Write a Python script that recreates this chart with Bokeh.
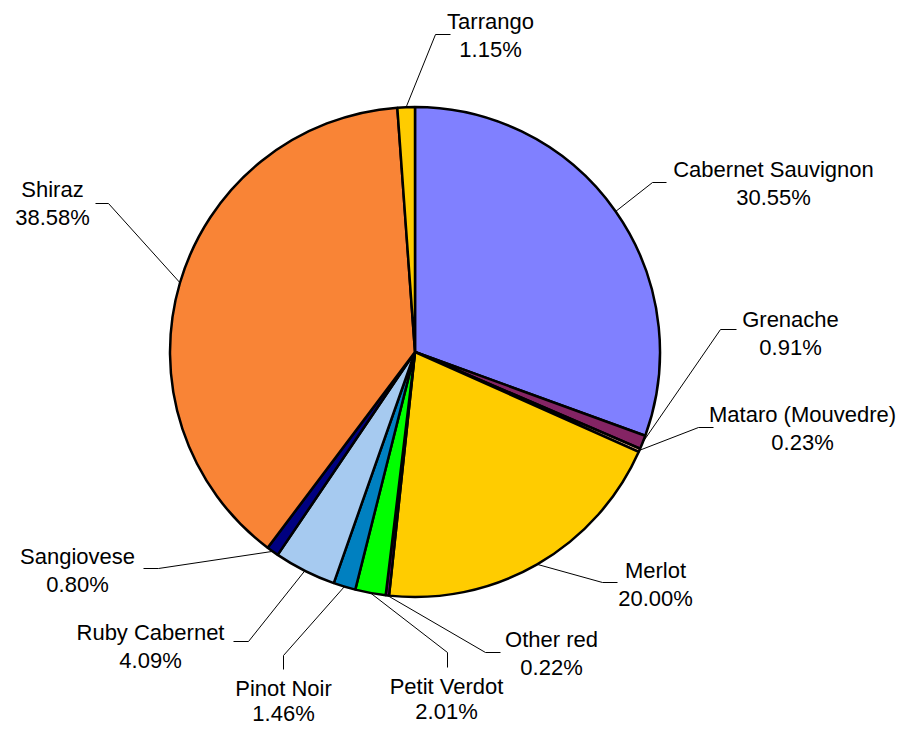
import numpy as np
from bokeh.plotting import figure
from bokeh.models import Range1d, ColumnDataSource
from bokeh.core.properties import value
from bokeh.embed import file_html
from bokeh.resources import INLINE

# ---- data ----
varieties = ["Cabernet Sauvignon", "Grenache", "Mataro (Mouvedre)", "Merlot", "Other red",
             "Petit Verdot", "Pinot Noir", "Ruby Cabernet", "Sangiovese", "Shiraz", "Tarrango"]
shares = [30.55, 0.91, 0.23, 20.00, 0.22, 2.01, 1.46, 4.09, 0.80, 38.58, 1.15]
pct_labels = ["30.55%", "0.91%", "0.23%", "20.00%", "0.22%", "2.01%", "1.46%", "4.09%",
              "0.80%", "38.58%", "1.15%"]

# ---- style ----
colors = ["#8080FF", "#842464", "#FFCC99", "#FFCC00", "#800080", "#00FF00", "#0080C0",
          "#A6CAF0", "#000080", "#F98436", "#FFCC00"]

W, H = 896, 727
CX, CY_PX, R = 414.5, 351.5, 245.0


def Y(py):
    return H - py


# label layout: (center x, first line y, line gap, elbow x, elbow y, end x, end y) in picture pixels
label_layout = [
    (773, 169, 28, 652, 182, 666, 182),
    (790, 319, 28, 720, 329, 736, 329),
    (802, 414, 28, 698, 427, 713, 427),
    (655, 570, 28, 602, 582, 617, 582),
    (551, 639, 28, 485, 652, 500, 652),
    (446, 686, 25, 447, 652, 447, 667),
    (283, 688, 25, 283, 655, 283, 669),
    (150, 632, 28, 248, 641, 233, 641),
    (77, 556, 28, 158, 568, 143, 568),
    (52, 189, 28, 108, 203, 95, 203),
    (490, 21, 28, 435, 34, 450, 34),
]

frac = np.array(shares) / np.sum(shares)
cum = np.concatenate([[0], np.cumsum(frac)])
start = np.pi / 2 - 2 * np.pi * cum[:-1]
end = np.pi / 2 - 2 * np.pi * cum[1:]
mid = (start + end) / 2

p = figure(width=W, height=H, x_range=Range1d(0, W), y_range=Range1d(0, H),
           output_backend="svg", toolbar_location=None, min_border=0)
p.axis.visible = False
p.grid.visible = False
p.outline_line_color = None
p.background_fill_color = "white"

src = ColumnDataSource(dict(start=start, end=end, color=colors))
p.wedge(x=CX, y=Y(CY_PX), radius=R, start_angle="start", end_angle="end",
        direction="clock", fill_color="color", line_color="black", line_width=2.5,
        source=src)

xs, ys = [], []
tx, ty1, ty2 = [], [], []
for i, (lx, ly, gap, ex, ey, fx, fy) in enumerate(label_layout):
    sx = CX + R * np.cos(mid[i])
    sy = Y(CY_PX) + R * np.sin(mid[i])
    xs.append([sx, ex, fx])
    ys.append([sy, Y(ey), Y(fy)])
    tx.append(lx)
    ty1.append(Y(ly))
    ty2.append(Y(ly + gap))

p.multi_line(xs=xs, ys=ys, line_color="black", line_width=1)

p.text(x=tx, y=ty1, text=varieties, text_align="center", text_baseline="middle",
       text_font=value("Liberation Sans"), text_font_size="22px", text_color="black")
p.text(x=tx, y=ty2, text=pct_labels, text_align="center", text_baseline="middle",
       text_font=value("Liberation Sans"), text_font_size="22px", text_color="black")

open("out.html", "w").write(file_html(p, INLINE))
